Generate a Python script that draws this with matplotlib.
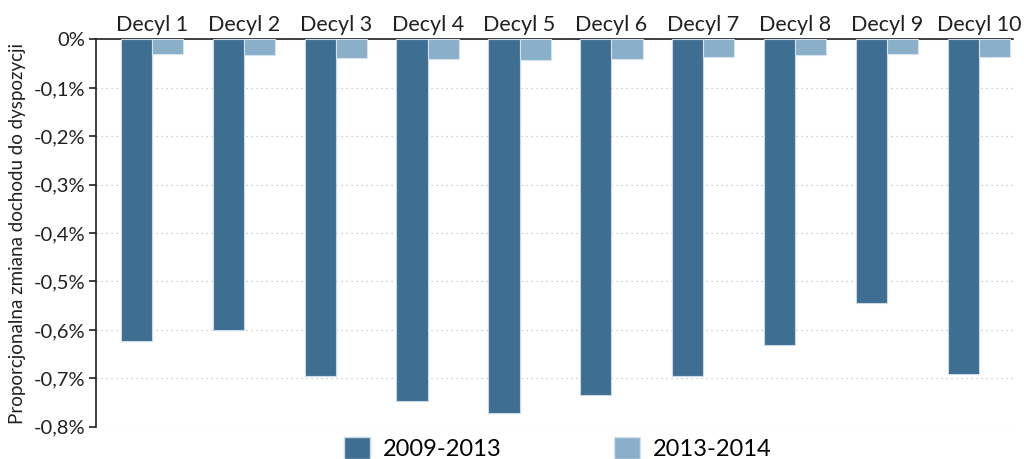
import numpy as np
import matplotlib.pyplot as plt
from matplotlib.patches import Patch

# data (percent change)
decyle = ['Decyl 1', 'Decyl 2', 'Decyl 3', 'Decyl 4', 'Decyl 5',
          'Decyl 6', 'Decyl 7', 'Decyl 8', 'Decyl 9', 'Decyl 10']
zmiana_2009_2013 = [-0.623, -0.600, -0.696, -0.747, -0.771,
                    -0.734, -0.696, -0.631, -0.545, -0.692]
zmiana_2013_2014 = [-0.031, -0.032, -0.038, -0.041, -0.043,
                    -0.040, -0.037, -0.033, -0.029, -0.036]
y_ticks = [0, -0.1, -0.2, -0.3, -0.4, -0.5, -0.6, -0.7, -0.8]
y_labels = ['0%', '-0,1%', '-0,2%', '-0,3%', '-0,4%', '-0,5%', '-0,6%', '-0,7%', '-0,8%']

plt.rcParams['font.family'] = ['Lato', 'DejaVu Sans']

dark = '#3e6e91'
light = '#8ab0c9'

fig = plt.figure(figsize=(10.29, 4.59), dpi=100)
ax = fig.add_axes([0.0933, 0.0704, 0.891, 0.8436])

x = np.arange(len(decyle))
w = 0.34
ax.bar(x - w / 2, zmiana_2009_2013, w, color=dark, edgecolor='#c9d9e6', linewidth=0.8, zorder=3)
ax.bar(x + w / 2, zmiana_2013_2014, w, color=light, edgecolor='#d5e3ee', linewidth=0.8, zorder=3)

ax.set_xlim(-0.61, 9.37)
ax.set_ylim(-0.8, 0)
ax.set_yticks(y_ticks)
ax.set_yticklabels(y_labels, fontsize=14.5, color='#231f20')
ax.yaxis.grid(True, linestyle=(0, (1, 3)), color='#c0c0c0', linewidth=0.9, zorder=0)

ax.xaxis.tick_top()
ax.set_xticks(x)
ax.set_xticklabels(decyle, fontsize=15.5, color='#231f20')
ax.tick_params(axis='x', length=0, pad=3)
ax.tick_params(axis='y', length=5, width=1.2, color='#231f20', pad=3)

ax.spines['bottom'].set_visible(False)
ax.spines['right'].set_visible(False)
ax.spines['top'].set_linewidth(1.2)
ax.spines['left'].set_linewidth(1.2)
ax.spines['top'].set_color('#231f20')
ax.spines['left'].set_color('#231f20')

ax.set_ylabel('Proporcjonalna zmiana dochodu do dyspozycji', fontsize=13.5, color='#231f20', labelpad=5)

handles = [Patch(facecolor=dark, edgecolor='#c9d9e6'), Patch(facecolor=light, edgecolor='#d5e3ee')]
fig.legend(handles, ['2009-2013', '2013-2014'], loc='center', bbox_to_anchor=(0.542, 0.023),
           ncol=2, frameon=False, fontsize=17, handlelength=1.1, handleheight=1.1,
           columnspacing=4.75, handletextpad=0.55)

fig.savefig('out.png', dpi=100)
